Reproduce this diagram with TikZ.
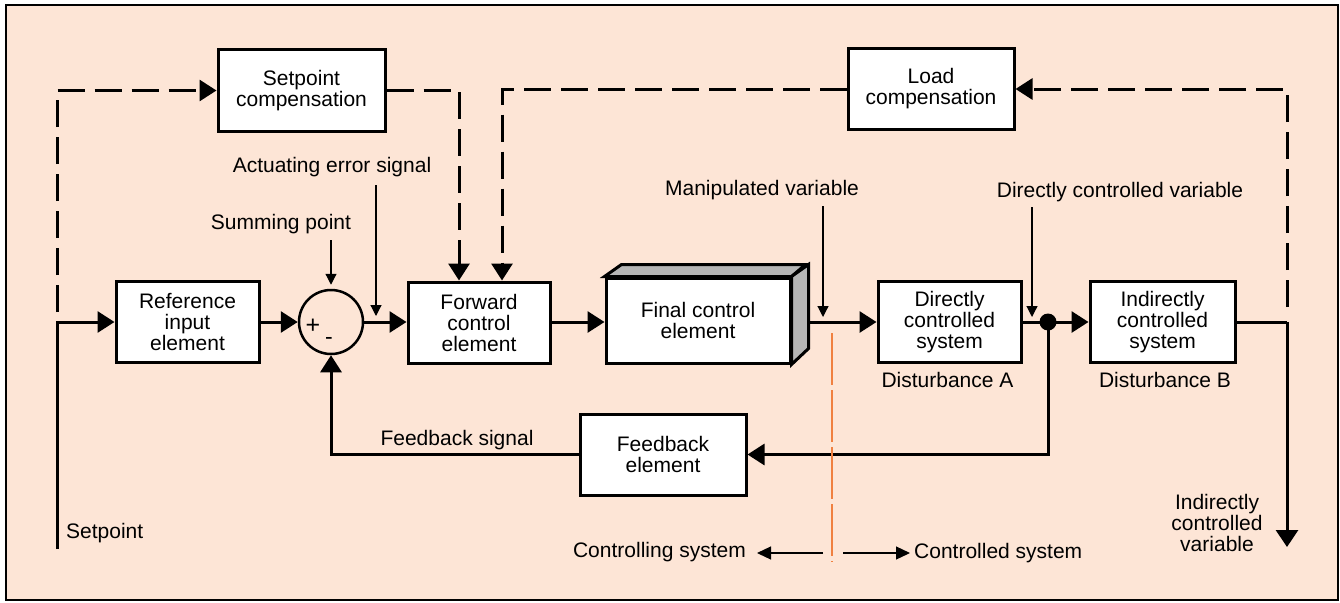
\documentclass[tikz,border=0pt]{standalone}
\usepackage{fontspec}
\setmainfont{Liberation Sans}
\usetikzlibrary{arrows.meta}
\definecolor{peach}{RGB}{253,229,214}
\definecolor{sidegray}{RGB}{182,182,182}
\definecolor{cutline}{RGB}{240,128,64}

\tikzset{
  lbl/.style={font=\fontsize{21}{21}\selectfont, inner sep=0pt, align=center},
  blk/.style={draw, line width=3pt, fill=white, inner sep=0pt, align=center,
    font=\fontsize{21}{21}\selectfont, minimum width=#1, minimum height=81pt},
  sig/.style={line width=3pt},
  bigtip/.style={-{Triangle[length=17pt,width=21pt]}},
  thin/.style={line width=1.2pt, -{Triangle[length=11pt,width=11pt]}},
  ffwd/.style={line width=3pt, dash pattern=on 27pt off 10pt},
}

\begin{document}
\begin{tikzpicture}[x=1pt,y=-1pt]
  \useasboundingbox (0,0) rectangle (1340,602);
  % panel
  \draw[fill=peach, line width=2.2pt] (6,5) rectangle (1338,600);

  % blocks
  \node[blk=167pt] (setcomp) at (301.5,90.5) {Setpoint\\compensation};
  \node[blk=166pt] (loadcomp) at (931,89) {Load\\compensation};
  \node[blk=143pt] (ref) at (187.5,322) {Reference\\input\\element};
  \node[draw, circle, line width=2.5pt, minimum size=64pt, inner sep=0pt] (sum) at (331,322) {};
  \node[lbl, font=\fontsize{25}{25}\selectfont] (plus) at (313,326) {+};
  \node[lbl, font=\fontsize{23}{23}\selectfont] (minus) at (329,341) {-};
  \node[blk=142pt] (fwd) at (479,322.5) {Forward\\control\\element};
  \node[blk=143pt] (dcs) at (949.5,322) {Directly\\controlled\\system};
  \node[blk=145pt] (ics) at (1162.5,322) {Indirectly\\controlled\\system};
  \node[blk=166pt] (fb) at (663,454.5) {Feedback\\element};

  % final control element drawn as a solid block
  \node[blk=184pt, minimum height=85pt] (final) at (698,320.5) {Final control\\element};
  \draw[line width=3pt, fill=sidegray, line join=miter]
    (final.north west) -- ++(17,-12) -- ++(184,0) -- (final.north east) -- cycle;
  \draw[line width=3pt, fill=sidegray, line join=miter]
    (final.north east) -- ++(17,-12) -- ++(0,84) -- (final.south east) -- cycle;
  \coordinate (finalout) at (807,322);

  % junction
  \coordinate (dot) at (1048,322);
  \fill (dot) circle (8.5pt);

  % free ends
  \coordinate (spbot) at (57,549);
  \coordinate (sptop) at (57,312);
  \coordinate (icvend) at (1287,547);
  \coordinate (icvtop) at (1287,307);
  \coordinate (icvcorner) at (1287,322);

  % main path
  \draw[sig, bigtip] (spbot) |- (ref.west);
  \draw[sig, bigtip] (ref.east) -- (sum.west);
  \draw[sig, bigtip] (sum.east) -- (sum.east -| fwd.west);
  \draw[sig, bigtip] (sum.east -| fwd.east) -- (sum.east -| final.west);
  \draw[sig, bigtip] (finalout) -- (dcs.west);
  \draw[sig] (dcs.east) -- (dot);
  \draw[sig, bigtip] (dot) -- (ics.west);
  \draw[sig] (ics.east) -- (icvcorner);
  \draw[sig, -{Triangle[length=17pt,width=22pt]}] (icvcorner) -- (icvend);

  % feedback loop
  \draw[sig, bigtip] (dot) |- (fb.east);
  \draw[sig, bigtip] (fb.west) -| (sum.south);

  % feedforward compensation paths
  \draw[ffwd, bigtip] (sptop) |- (setcomp.west);
  \draw[ffwd, bigtip] (setcomp.east) -| ([xshift=-20pt]fwd.north);
  \draw[ffwd, bigtip] (icvtop) |- (loadcomp.east);
  \draw[ffwd, bigtip] (loadcomp.west) -| ([xshift=23pt]fwd.north);

  % pointer labels
  \node[lbl] (lsum) at (281,224) {Summing point};
  \node[lbl] (lerr) at (332,167) {Actuating error signal};
  \node[lbl] (lman) at (762,190) {Manipulated variable};
  \node[lbl] (ldcv) at (1120,192) {Directly controlled variable};
  \coordinate (psum) at (331,240);
  \coordinate (perr0) at (376,185);
  \coordinate (perr1) at (376,316);
  \coordinate (pman0) at (823,206);
  \coordinate (pman1) at (823,317);
  \coordinate (pdcv0) at (1032,207);
  \coordinate (pdcv1) at (1032,317);
  \draw[thin, shorten >=4pt] (psum) -- (sum.north);
  \draw[thin] (perr0) -- (perr1);
  \draw[thin] (pman0) -- (pman1);
  \draw[thin] (pdcv0) -- (pdcv1);

  % other labels
  \node[lbl, anchor=west] (lsp) at (66,533) {Setpoint};
  \node[lbl] (lfbs) at (457,440) {Feedback signal};
  \node[lbl] (ldista) at (947.5,380) {Disturbance A};
  \node[lbl] (ldistb) at (1165,380) {Disturbance B};
  \node[lbl] (licv) at (1217,523) {Indirectly\\controlled\\variable};

  % boundary between controlling and controlled system
  \draw[cutline, line width=1.2pt, dash pattern=on 52pt off 5pt] (832,333) -- (832,562);
  \node[lbl, anchor=east] (lcing) at (746,552) {Controlling system};
  \node[lbl, anchor=west] (lced) at (914,553) {Controlled system};
  \coordinate (cl0) at (823,553);
  \coordinate (cl1) at (757,553);
  \coordinate (cr0) at (843,553);
  \coordinate (cr1) at (910,553);
  \draw[line width=1.2pt, -{Triangle[length=14pt,width=13pt]}] (cl0) -- (cl1);
  \draw[line width=1.2pt, -{Triangle[length=14pt,width=13pt]}] (cr0) -- (cr1);
\end{tikzpicture}
\end{document}
